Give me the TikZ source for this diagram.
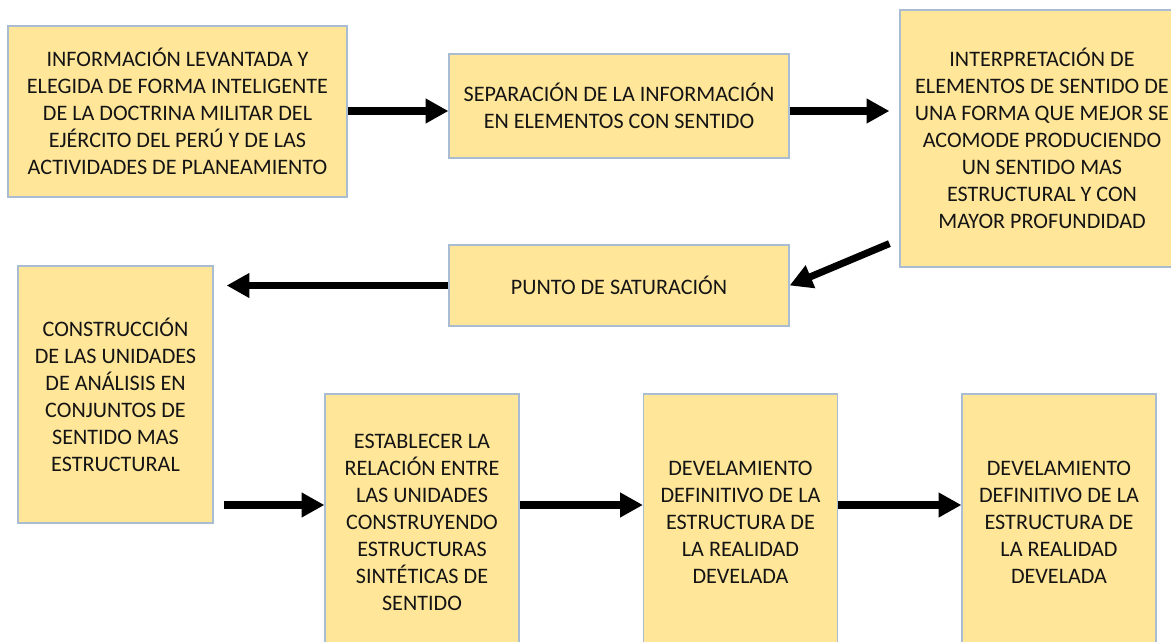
\documentclass[tikz,border=0pt]{standalone}
\usepackage{fontspec}
\setmainfont{Carlito}
\usetikzlibrary{arrows.meta}

\definecolor{relleno}{RGB}{255,230,153}
\definecolor{borde}{RGB}{170,188,210}

\begin{document}
\begin{tikzpicture}[x=0.75pt, y=-0.75pt,
        caja/.style={draw=borde, fill=relleno, line width=0.9pt, align=center, inner sep=0pt,
            text=black!92, font=\fontsize{16.6}{20.25}\selectfont},
        flecha/.style={-{Triangle[length=17pt, width=17.5pt]}, line width=5.3pt}]
        \path[use as bounding box] (0,0) rectangle (1171,642);
        \clip (0,0) rectangle (1171,642);

        % fila superior
        \node[caja, minimum width=254.25pt, minimum height=128.25pt] (info) at (177.5,111.5)
            {INFORMACIÓN LEVANTADA Y\\ELEGIDA DE FORMA INTELIGENTE\\DE LA DOCTRINA MILITAR DEL\\EJÉRCITO DEL PERÚ Y DE LAS\\ACTIVIDADES DE PLANEAMIENTO};
        \node[caja, minimum width=255pt, minimum height=78pt] (separacion) at (619,106)
            {SEPARACIÓN DE LA INFORMACIÓN\\EN ELEMENTOS CON SENTIDO};
        \node[caja, minimum width=213pt, minimum height=192.75pt] (interpretacion) at (1042,138.5)
            {INTERPRETACIÓN DE\\ELEMENTOS DE SENTIDO DE\\UNA FORMA QUE MEJOR SE\\ACOMODE PRODUCIENDO\\UN SENTIDO MAS\\ESTRUCTURAL Y CON\\MAYOR PROFUNDIDAD};

        % punto de saturacion y construccion
        \node[caja, minimum width=255pt, minimum height=60.75pt] (saturacion) at (619,285.5)
            {PUNTO DE SATURACIÓN};
        \node[caja, minimum width=146.25pt, minimum height=192.75pt] (construccion) at (115.5,394.5)
            {CONSTRUCCIÓN\\DE LAS UNIDADES\\DE ANÁLISIS EN\\CONJUNTOS DE\\SENTIDO MAS\\ESTRUCTURAL};

        % fila inferior
        \node[caja, minimum width=145.5pt, minimum height=192.75pt] (relacion) at (422,522.5)
            {ESTABLECER LA\\RELACIÓN ENTRE\\LAS UNIDADES\\CONSTRUYENDO\\ESTRUCTURAS\\SINTÉTICAS DE\\SENTIDO};
        \node[caja, minimum width=145.5pt, minimum height=192.75pt] (develamiento_a) at (740.5,522.5)
            {DEVELAMIENTO\\DEFINITIVO DE LA\\ESTRUCTURA DE\\LA REALIDAD\\DEVELADA};
        \node[caja, minimum width=145.5pt, minimum height=192.75pt] (develamiento_b) at (1059,522.5)
            {DEVELAMIENTO\\DEFINITIVO DE LA\\ESTRUCTURA DE\\LA REALIDAD\\DEVELADA};

        % flechas
        \coordinate (fila_arriba) at (0,111);
        \coordinate (fila_abajo) at (0,505);
        \coordinate (inicio_diag) at ([shift={(-10,-24)}]interpretacion.south west);

        \draw[flecha] (info.east |- fila_arriba) -- (separacion.west |- fila_arriba);
        \draw[flecha, shorten >=7.5pt] (separacion.east |- fila_arriba) -- (interpretacion.west |- fila_arriba);
        \draw[flecha] (inicio_diag) -- (saturacion.east);
        \draw[flecha, shorten >=9.75pt] (saturacion.west) -- (saturacion.west -| construccion.east);
        \draw[flecha, shorten <=7.5pt] (construccion.east |- fila_abajo) -- (relacion.west |- fila_abajo);
        \draw[flecha] (relacion.east |- fila_abajo) -- (develamiento_a.west |- fila_abajo);
        \draw[flecha] (develamiento_a.east |- fila_abajo) -- (develamiento_b.west |- fila_abajo);
    \end{tikzpicture}
\end{document}
